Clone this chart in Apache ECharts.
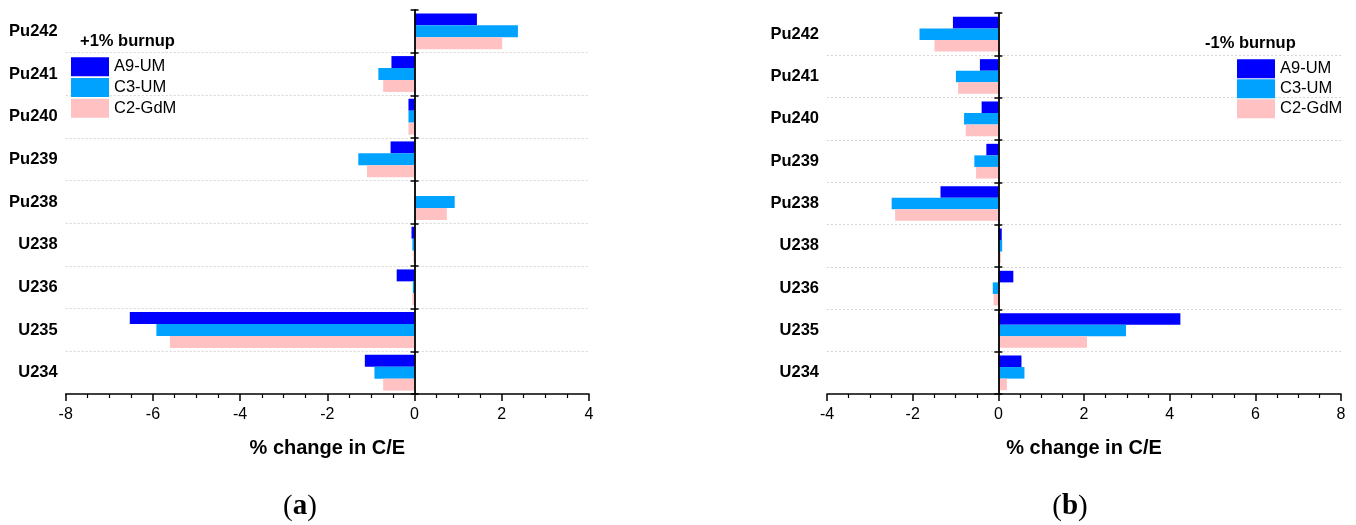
<!DOCTYPE html>
<html>
<head>
<meta charset="utf-8">
<script src="https://cdn.jsdelivr.net/npm/echarts@6/dist/echarts.min.js"></script>
<style>
html,body{margin:0;padding:0;background:#fff;}
#chart{width:1356px;height:525px;}
</style>
</head>
<body>
<div id="chart"></div>
<script>
// Categories (top to bottom)
var categories = ['Pu242','Pu241','Pu240','Pu239','Pu238','U238','U236','U235','U234'];
var seriesNames = ['A9-UM','C3-UM','C2-GdM'];
// (a) +1% burnup
var plusA9 = [1.43, -0.53, -0.14, -0.55, 0.00, -0.07, -0.41, -6.53, -1.14];
var plusC3 = [2.37, -0.83, -0.14, -1.29, 0.92, -0.05, -0.04, -5.92, -0.92];
var plusC2 = [2.01, -0.72, -0.14, -1.09, 0.74, -0.03, -0.05, -5.61, -0.72];
// (b) -1% burnup
var minusA9 = [-1.06, -0.43, -0.39, -0.28, -1.35, 0.08, 0.35, 4.25, 0.54];
var minusC3 = [-1.84, -0.99, -0.80, -0.56, -2.49, 0.09, -0.13, 2.98, 0.61];
var minusC2 = [-1.49, -0.94, -0.76, -0.52, -2.41, 0.06, -0.11, 2.07, 0.20];

var colors = ['#0000ff', '#00a2ff', '#ffc1c1'];
var FONT = 'Liberation Sans, Arial, sans-serif';

function valueAxis(grid, min, max, hidden) {
  if (hidden) {
    return { type: 'value', gridIndex: grid, min: min, max: max, interval: 2, show: false };
  }
  return {
    type: 'value', gridIndex: grid, min: min, max: max, interval: 2,
    position: 'bottom',
    axisLine: { show: true, onZero: false, lineStyle: { color: '#000', width: 1.5 } },
    axisTick: { show: true, length: 7, lineStyle: { color: '#000', width: 1.5 } },
    minorTick: { show: true, splitNumber: 4, length: 4, lineStyle: { color: '#000', width: 1.2 } },
    splitLine: { show: false },
    axisLabel: { color: '#000', fontSize: 16, fontFamily: FONT, margin: 13 },
    name: '% change in C/E', nameLocation: 'middle', nameGap: 44,
    nameTextStyle: { color: '#000', fontSize: 20, fontWeight: 'bold', fontFamily: FONT }
  };
}

function labelAxis(grid) {
  return {
    type: 'category', gridIndex: grid, data: categories, inverse: true, position: 'left',
    axisLine: { show: false, onZero: false },
    axisTick: { show: false },
    axisLabel: { color: '#000', fontSize: 16.5, fontWeight: 'bold', fontFamily: FONT, margin: 8 },
    splitLine: { show: true, showMinLine: false, showMaxLine: false,
      lineStyle: { color: '#d6d6d6', type: [2, 2], width: 1 } }
  };
}

function zeroAxis(grid, xIdx, inside, showLine) {
  return {
    type: 'category', gridIndex: grid, data: categories, inverse: true, z: 5,
    axisLine: { show: showLine, onZero: true, onZeroAxisIndex: xIdx, lineStyle: { color: '#000', width: 1.8 } },
    axisTick: { show: true, inside: inside, length: 4, lineStyle: { color: '#000', width: 1.5 } },
    axisLabel: { show: false },
    splitLine: { show: false }
  };
}

function bar(name, data, xIdx, yIdx, color, gap) {
  return {
    type: 'bar', name: name, data: data, xAxisIndex: xIdx, yAxisIndex: yIdx,
    itemStyle: { color: color }, barGap: '0%', barCategoryGap: gap,
    emphasis: { disabled: true }
  };
}

var legendBase = {
  orient: 'vertical', icon: 'rect', itemWidth: 38, itemHeight: 19, padding: 0,
  textStyle: { color: '#000', fontSize: 16.5, fontFamily: FONT },
  data: seriesNames, selectedMode: false
};

var option = {
  animation: false,
  backgroundColor: '#fff',
  grid: [
    { left: 65.7, right: 767, top: 10, bottom: 131 },
    { left: 827, right: 15, top: 13, bottom: 131 }
  ],
  title: [
    { text: '+1% burnup', left: 80, top: 33, padding: 0,
      textStyle: { color: '#000', fontSize: 16.5, fontWeight: 'bold', fontFamily: FONT } },
    { text: '-1% burnup', left: 1205, top: 35, padding: 0,
      textStyle: { color: '#000', fontSize: 16.5, fontWeight: 'bold', fontFamily: FONT } }
  ],
  legend: [
    Object.assign({}, legendBase, { left: 71, top: 57.3, itemGap: 1.7 }),
    Object.assign({}, legendBase, { left: 1237, top: 59.3, itemGap: 1 })
  ],
  xAxis: [
    valueAxis(0, -8, 4, false),
    valueAxis(0, -8, 4, true),
    valueAxis(1, -4, 8, false),
    valueAxis(1, -4, 8, true)
  ],
  yAxis: [
    labelAxis(0),
    zeroAxis(0, 0, false, true),
    zeroAxis(0, 1, true, false),
    labelAxis(1),
    zeroAxis(1, 2, false, true),
    zeroAxis(1, 3, true, false)
  ],
  series: [
    bar(seriesNames[0], plusA9, 0, 0, colors[0], '16%'),
    bar(seriesNames[1], plusC3, 0, 0, colors[1], '16%'),
    bar(seriesNames[2], plusC2, 0, 0, colors[2], '16%'),
    bar(seriesNames[0], minusA9, 2, 3, colors[0], '18%'),
    bar(seriesNames[1], minusC3, 2, 3, colors[1], '18%'),
    bar(seriesNames[2], minusC2, 2, 3, colors[2], '18%')
  ],
  graphic: [
    { type: 'text', x: 300, y: 507, style: { text: '{p|(}{b|a}{p|)}', textAlign: 'center', textVerticalAlign: 'middle',
      rich: { p: { fontSize: 29, fontFamily: 'Liberation Serif, serif', fill: '#000' },
              b: { fontSize: 29, fontWeight: 'bold', fontFamily: 'Liberation Serif, serif', fill: '#000' } } } },
    { type: 'text', x: 1070, y: 507, style: { text: '{p|(}{b|b}{p|)}', textAlign: 'center', textVerticalAlign: 'middle',
      rich: { p: { fontSize: 29, fontFamily: 'Liberation Serif, serif', fill: '#000' },
              b: { fontSize: 29, fontWeight: 'bold', fontFamily: 'Liberation Serif, serif', fill: '#000' } } } }
  ]
};

var chart = echarts.init(document.getElementById('chart'), null, { renderer: 'canvas' });
chart.setOption(option);
</script>
</body>
</html>
